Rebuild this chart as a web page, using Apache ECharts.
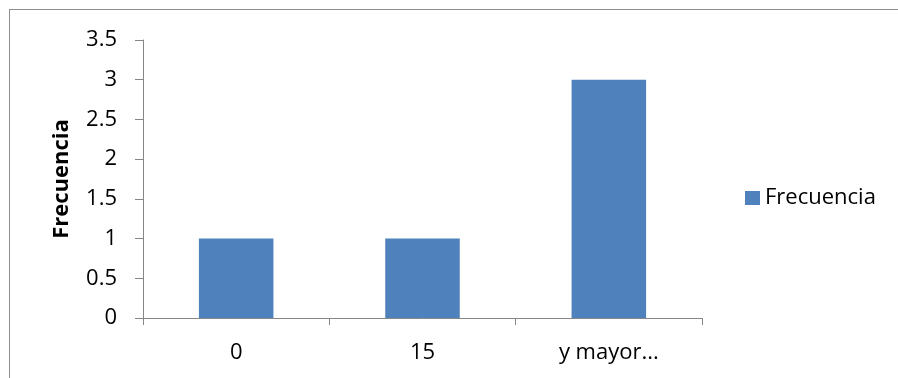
<!DOCTYPE html>
<html><head><meta charset="utf-8">
<script src="https://cdn.jsdelivr.net/npm/echarts@6/dist/echarts.min.js"></script>
<style>
html,body{margin:0;padding:0;background:#fff;overflow:hidden;}
#frame{position:absolute;left:9px;top:9px;width:950px;height:420px;border:1px solid #8e8e8e;box-sizing:border-box;}
#c{position:absolute;left:0;top:0;width:898px;height:378px;}
</style></head>
<body>
<div id="frame"></div>
<div id="c"></div>
<script>
const categories = ['0', '15', 'y mayor...'];
const frecuencia = [1, 1, 3];
const yTicks = { min: 0, max: 3.5, interval: 0.5 };
const seriesName = 'Frecuencia';

const font = '"Open Sans", "Noto Sans", sans-serif';
const chart = echarts.init(document.getElementById('c'), null, { renderer: 'canvas' });
chart.setOption({
  animation: false,
  backgroundColor: 'transparent',
  textStyle: { fontFamily: font },
  grid: { left: 143, top: 40, right: 196, bottom: 60, containLabel: false },
  legend: {
    show: true,
    left: 745, top: 187,
    padding: 0,
    orient: 'vertical',
    itemWidth: 15, itemHeight: 14, itemGap: 6,
    icon: 'rect',
    textStyle: { fontSize: 22, color: '#000', fontFamily: font },
    data: [seriesName]
  },
  xAxis: {
    type: 'category',
    data: categories,
    axisLine: { lineStyle: { color: '#868686', width: 1 } },
    axisTick: { show: true, length: 7, alignWithLabel: false, lineStyle: { color: '#868686' } },
    axisLabel: { fontSize: 22, color: '#000', margin: 24, fontFamily: font },
    splitLine: { show: false }
  },
  yAxis: {
    type: 'value',
    min: yTicks.min, max: yTicks.max, interval: yTicks.interval,
    name: 'Frecuencia',
    nameLocation: 'middle',
    nameGap: 70,
    nameRotate: 90,
    nameTextStyle: { fontSize: 22, fontWeight: 'bold', color: '#000', fontFamily: font },
    axisLine: { show: true, lineStyle: { color: '#868686', width: 1 } },
    axisTick: { show: true, inside: false, length: 8, lineStyle: { color: '#868686' } },
    axisLabel: { fontSize: 22, color: '#000', margin: 26, fontFamily: font },
    splitLine: { show: false }
  },
  series: [{
    name: seriesName,
    type: 'bar',
    data: frecuencia,
    barWidth: '40%',
    itemStyle: { color: '#4F81BD' }
  }]
});
</script>
</body></html>
